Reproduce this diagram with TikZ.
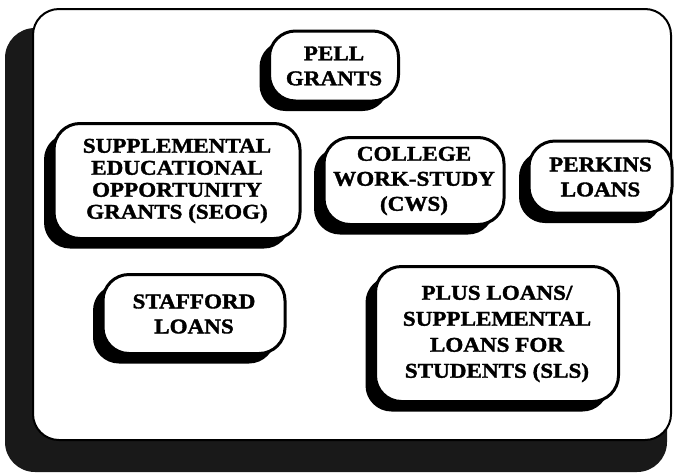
\documentclass[tikz,border=0pt]{standalone}
\usepackage{fontspec}
\newfontfamily\heavyfont[FakeBold=1.6,FakeStretch=1.1]{Liberation Serif Bold}
\usepackage{tikz}
\usetikzlibrary{positioning}
\usetikzlibrary{shadows}
\tikzset{fundbox/.style={draw,line width=3pt,fill=white,rounded corners=26pt,align=center,inner sep=0pt,
	font=\heavyfont\fontsize{21}{25}\selectfont,
	drop shadow={shadow xshift=-10pt,shadow yshift=-10pt,fill=black,opacity=1}}}
\begin{document}
\begin{tikzpicture}[x=1pt,y=-1pt]
		\useasboundingbox (0,0) rectangle (677,472);
		\fill[black!90,rounded corners=30pt] (5,28) rectangle (667,472);
		\draw[line width=2pt,fill=white,rounded corners=26pt] (33,9) rectangle (671,440);
		\node[fundbox,minimum width=129pt,minimum height=70pt] (pell) at (334,66) {PELL\\GRANTS};
		\node[fundbox,minimum width=246pt,minimum height=115pt,font=\heavyfont\fontsize{21}{22}\selectfont] (seog) at (177,181) {SUPPLEMENTAL\\EDUCATIONAL\\OPPORTUNITY\\GRANTS (SEOG)};
		\node[fundbox,minimum width=180pt,minimum height=87pt,right=21pt of seog] (cws) {COLLEGE\\WORK-STUDY\\(CWS)};
		\node[fundbox,minimum width=143pt,minimum height=72pt,right=22pt of cws,yshift=4pt] (perkins) {PERKINS\\LOANS};
		\node[fundbox,minimum width=182pt,minimum height=79pt] (stafford) at (194,314) {STAFFORD\\LOANS};
		\node[fundbox,minimum width=243pt,minimum height=135pt,font=\heavyfont\fontsize{21}{26}\selectfont] (plus) at (497,334) {PLUS LOANS/\\SUPPLEMENTAL\\LOANS FOR\\STUDENTS (SLS)};
	\end{tikzpicture}
\end{document}
